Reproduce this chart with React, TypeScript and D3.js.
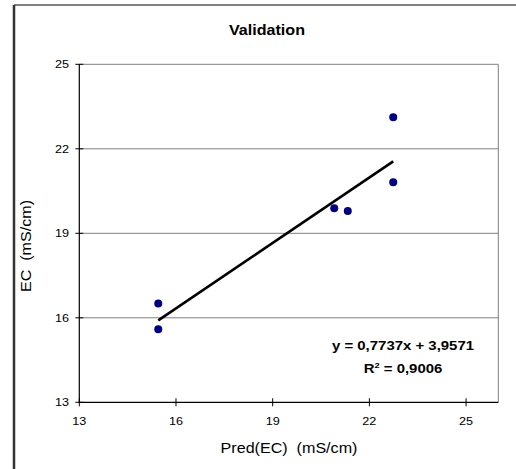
import React from 'react'
import * as d3 from 'd3'

const width = 516
const height = 469

// measured values
const predEC = [15.45, 15.45, 20.91, 21.33, 22.74, 22.74]
const measEC = [16.51, 15.59, 19.89, 19.79, 23.12, 20.81]
const tickValues = [13, 16, 19, 22, 25]
const slope = 0.7737
const intercept = 3.9571
const eqLabel = 'y = 0,7737x + 3,9571'
const r2Label = '= 0,9006'

const font = '"Liberation Sans", Arial, sans-serif'
const stretch = 1.15

const plot = { left: 79.3, right: 498.3, top: 64.3, bottom: 402.3 }

const App = () => {
  const x = d3.scaleLinear().domain([13, 26]).range([plot.left, plot.right])
  const y = d3.scaleLinear().domain([13, 25]).range([plot.bottom, plot.top])

  const xMin = d3.min(predEC) as number
  const xMax = d3.max(predEC) as number
  const line = d3.line<number>()
    .x(d => x(d))
    .y(d => y(slope * d + intercept))

  const txt = (tx: number, ty: number, s: string, size: number, opts: any = {}) => (
    <text
      transform={`translate(${tx},${ty}) ${opts.rotate ? 'rotate(-90) ' : ''}scale(${stretch},1)`}
      textAnchor={opts.anchor || 'middle'}
      fontSize={size}
      fontWeight={opts.bold ? 'bold' : 'normal'}
      fontFamily={font}
      fill="#000"
      style={{ whiteSpace: 'pre' }}
    >
      {s}
    </text>
  )

  return (
    <svg width={width} height={height} style={{ position: 'absolute', left: 0, top: 0, background: '#fff' }}>
      {/* chart area border (only top/left visible) */}
      <line x1={14} x2={width} y1={5} y2={5} stroke="#000" strokeWidth={1} />
      <line x1={14} x2={14} y1={5} y2={height} stroke="#333" strokeWidth={2.5} />

      {txt(267, 35, 'Validation', 14, { bold: true })}

      {/* gridlines */}
      {tickValues.filter(t => t > 13).map(t => (
        <line key={'g' + t} x1={plot.left} x2={plot.right} y1={y(t)} y2={y(t)} stroke="#808080" strokeWidth={1} />
      ))}
      <line x1={plot.right} x2={plot.right} y1={plot.top} y2={plot.bottom} stroke="#808080" strokeWidth={1} />

      {/* axes */}
      <line x1={plot.left} x2={plot.left} y1={plot.top} y2={plot.bottom} stroke="#000" strokeWidth={1.2} />
      <line x1={plot.left} x2={plot.right} y1={plot.bottom} y2={plot.bottom} stroke="#000" strokeWidth={1.2} />
      {tickValues.map(t => (
        <g key={'y' + t}>
          <line x1={plot.left - 4} x2={plot.left + 4} y1={y(t)} y2={y(t)} stroke="#000" />
          {txt(69, y(t) + 4, String(t), 11, { anchor: 'end' })}
        </g>
      ))}
      {tickValues.map(t => (
        <g key={'x' + t}>
          <line x1={x(t)} x2={x(t)} y1={plot.bottom - 4} y2={plot.bottom + 4} stroke="#000" />
          {txt(x(t), 425, String(t), 11)}
        </g>
      ))}

      {txt(289, 453, 'Pred(EC)  (mS/cm)', 14)}
      {txt(31, 246, 'EC  (mS/cm)', 14, { rotate: true })}

      {/* trendline */}
      <path d={line([xMin, xMax]) || ''} fill="none" stroke="#000" strokeWidth={2.6} />

      {/* points */}
      {predEC.map((d, i) => (
        <circle key={i} cx={x(d)} cy={y(measEC[i])} r={4} fill="#000080" />
      ))}

      {/* equation */}
      {txt(403, 350, eqLabel, 13, { bold: true })}
      <text
        transform={`translate(403,372.7) scale(${stretch},1)`}
        textAnchor="middle"
        fontSize={13}
        fontWeight="bold"
        fontFamily={font}
        style={{ whiteSpace: 'pre' }}
      >
        R<tspan fontSize={8} dy={-5}>2</tspan><tspan dy={5}>{' ' + r2Label}</tspan>
      </text>
    </svg>
  )
}

export default App
